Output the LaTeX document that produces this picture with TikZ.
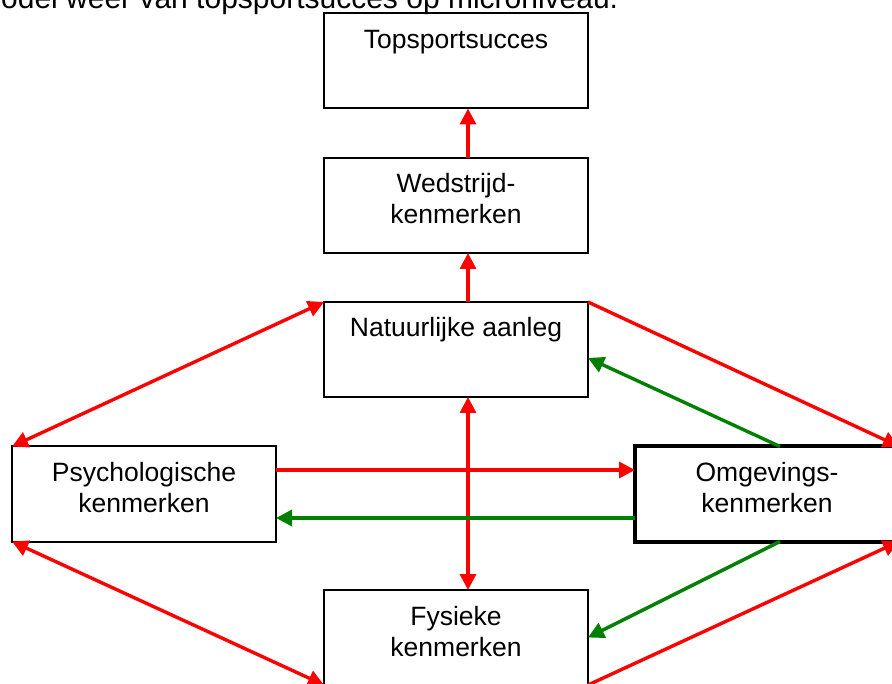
\documentclass[tikz,border=0pt]{standalone}
\usepackage{fontspec}
\setmainfont{Liberation Sans}
\usetikzlibrary{arrows.meta}
% text set at the top of a fixed-size box
\newcommand{\boxlines}[1]{\parbox[c][95pt][t]{264pt}{\centering\rule{0pt}{35pt}#1}}
\begin{document}
\begin{tikzpicture}[x=1pt,y=-1pt,
  box/.style={draw, line width=2pt, inner sep=0pt, outer sep=0pt,
    font=\fontsize{26.5}{31}\selectfont},
  thickbox/.style={box, line width=4pt},
  redarr/.style={draw=red, line width=3.4pt, -{Triangle[length=16pt,width=16pt]}},
  redboth/.style={draw=red, line width=3.4pt, {Triangle[length=16pt,width=16pt]}-{Triangle[length=16pt,width=16pt]}},
  greenarr/.style={draw=green!50!black, line width=3.4pt, -{Triangle[length=16pt,width=16pt]}}]
  \useasboundingbox (0,0) rectangle (892,684);
  \fill[white] (0,0) rectangle (892,684);
  \clip (0,0) rectangle (892,684);

  % caption line running over the top edge
  \node[anchor=base west, inner sep=0pt, font=\fontsize{30}{36}\selectfont] (caption)
    at (-24,9) {model weer van topsportsucces op microniveau.};

  % boxes
  \node[box] (top) at (456,61)    {\boxlines{Topsportsucces}};
  \node[box] (wed) at (456,205.5) {\boxlines{Wedstrijd-\\kenmerken}};
  \node[box] (nat) at (456,349.5) {\boxlines{Natuurlijke aanleg}};
  \node[box] (psy) at (144,494)   {\boxlines{Psychologische\\kenmerken}};
  \node[thickbox] (omg) at (767,494) {\boxlines{Omgevings-\\kenmerken}};
  \node[box] (fys) at (456,637.5) {\boxlines{Fysieke\\kenmerken}};

  % vertical chain
  \draw[redarr] ([xshift=12pt]wed.north) -- ([xshift=12pt]top.south);
  \draw[redarr] ([xshift=12pt]nat.north) -- ([xshift=12pt]wed.south);
  \draw[redboth] ([xshift=12pt]nat.south) -- ([xshift=12pt]fys.north);

  % outer diamond
  \draw[redboth] (nat.north west) -- (psy.north west);
  \draw[redarr] (nat.north east) -- (omg.north east);
  \draw[redboth] (psy.south west) -- (fys.south west);
  \draw[redarr] (fys.south east) -- (omg.south east);

  % links between psychological and environmental characteristics
  \draw[redarr] ([yshift=24pt]psy.east) -- ([yshift=24pt]omg.west);
  \draw[greenarr] ([yshift=-24pt]omg.west) -- ([yshift=-24pt]psy.east);

  % environmental influences
  \draw[greenarr] ([xshift=13pt]omg.north) -- ([yshift=-8.5pt]nat.east);
  \draw[greenarr] ([xshift=13pt]omg.south) -- (fys.east);
\end{tikzpicture}
\end{document}
